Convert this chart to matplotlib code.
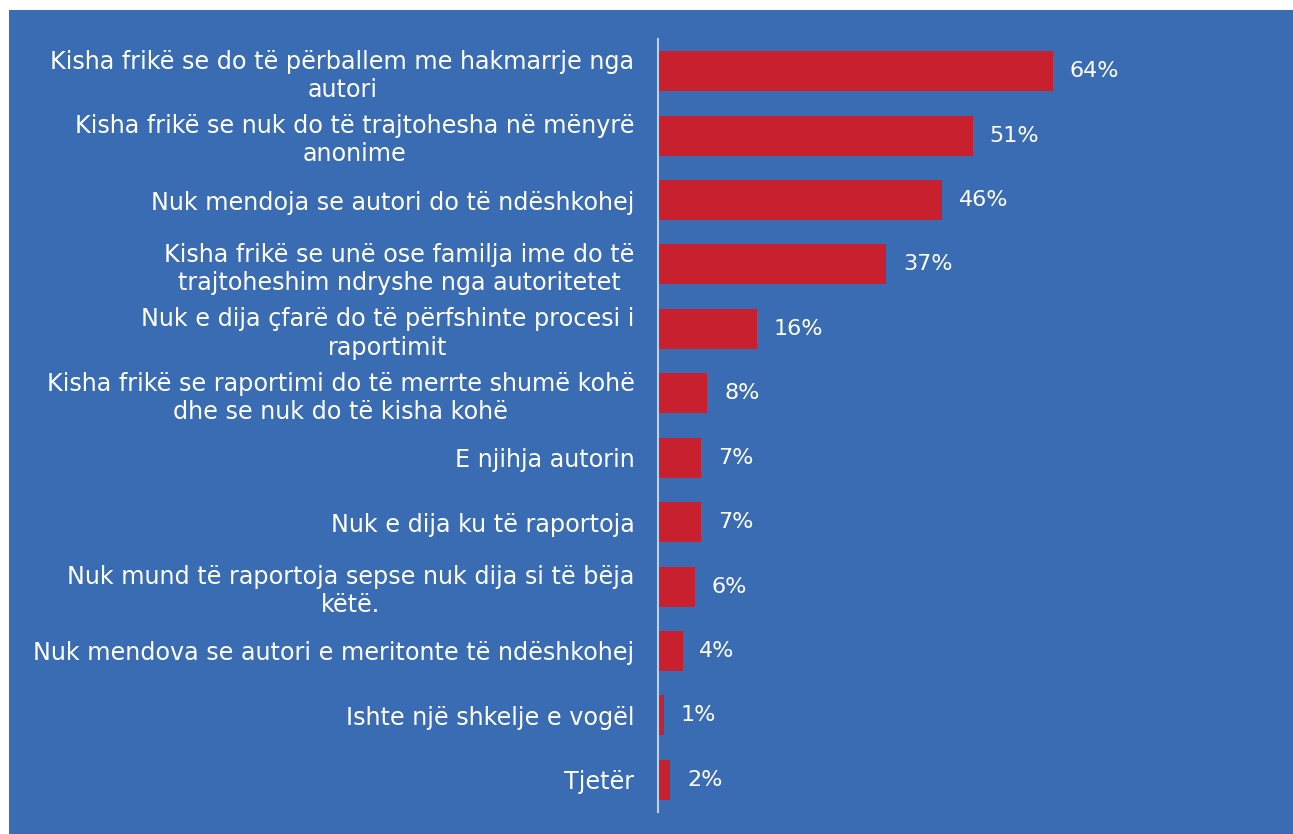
import matplotlib
matplotlib.use("Agg")
import matplotlib.pyplot as plt
from matplotlib.patches import Rectangle

categories = [
    "Kisha frikë se do të përballem me hakmarrje nga\nautori",
    "Kisha frikë se nuk do të trajtohesha në mënyrë\nanonime",
    "Nuk mendoja se autori do të ndëshkohej",
    "Kisha frikë se unë ose familja ime do të\ntrajtoheshim ndryshe nga autoritetet",
    "Nuk e dija çfarë do të përfshinte procesi i\nraportimit",
    "Kisha frikë se raportimi do të merrte shumë kohë\ndhe se nuk do të kisha kohë",
    "E njihja autorin",
    "Nuk e dija ku të raportoja",
    "Nuk mund të raportoja sepse nuk dija si të bëja\nkëtë.",
    "Nuk mendova se autori e meritonte të ndëshkohej",
    "Ishte një shkelje e vogël",
    "Tjetër",
]
values = [64, 51, 46, 37, 16, 8, 7, 7, 6, 4, 1, 2]

BLUE = "#3a6cb4"
RED = "#c9202f"
W, H = 1293, 834

fig = plt.figure(figsize=(W / 100, H / 100), dpi=100)
fig.patch.set_facecolor("white")
fig.add_artist(Rectangle((9 / W, 0), 1 - 9 / W, (H - 10) / H,
                         transform=fig.transFigure, facecolor=BLUE,
                         edgecolor="none", zorder=-10))

left, right = 658, 1240
top, bottom = 39, 812
ax = fig.add_axes([left / W, 1 - bottom / H, (right - left) / W, (bottom - top) / H])
ax.set_facecolor("none")
ax.set_zorder(5)

y = list(range(len(categories)))
ax.barh(y, values, height=0.62, color=RED, zorder=2)
ax.set_ylim(len(categories) - 0.5, -0.5)
ax.set_xlim(0, (right - left) / 6.17)

for yi, v in zip(y, values):
    ax.annotate(f"{v}%", (v, yi), xytext=(12, 0), textcoords="offset points",
                va="center", ha="left", color="white", fontsize=16,
                family="DejaVu Sans")

ax.set_yticks(y)
ax.set_yticklabels(categories, color="white", fontsize=17.2, linespacing=1.22,
                   family="DejaVu Sans")
for lbl in ax.get_yticklabels():
    lbl.set_multialignment("center")
ax.tick_params(axis="y", length=0, pad=17)
ax.set_xticks([])
for s in ["top", "right", "bottom"]:
    ax.spines[s].set_visible(False)
ax.spines["left"].set_color("#c5cde0")
ax.spines["left"].set_linewidth(1.5)

fig.savefig("out.png", dpi=100)
